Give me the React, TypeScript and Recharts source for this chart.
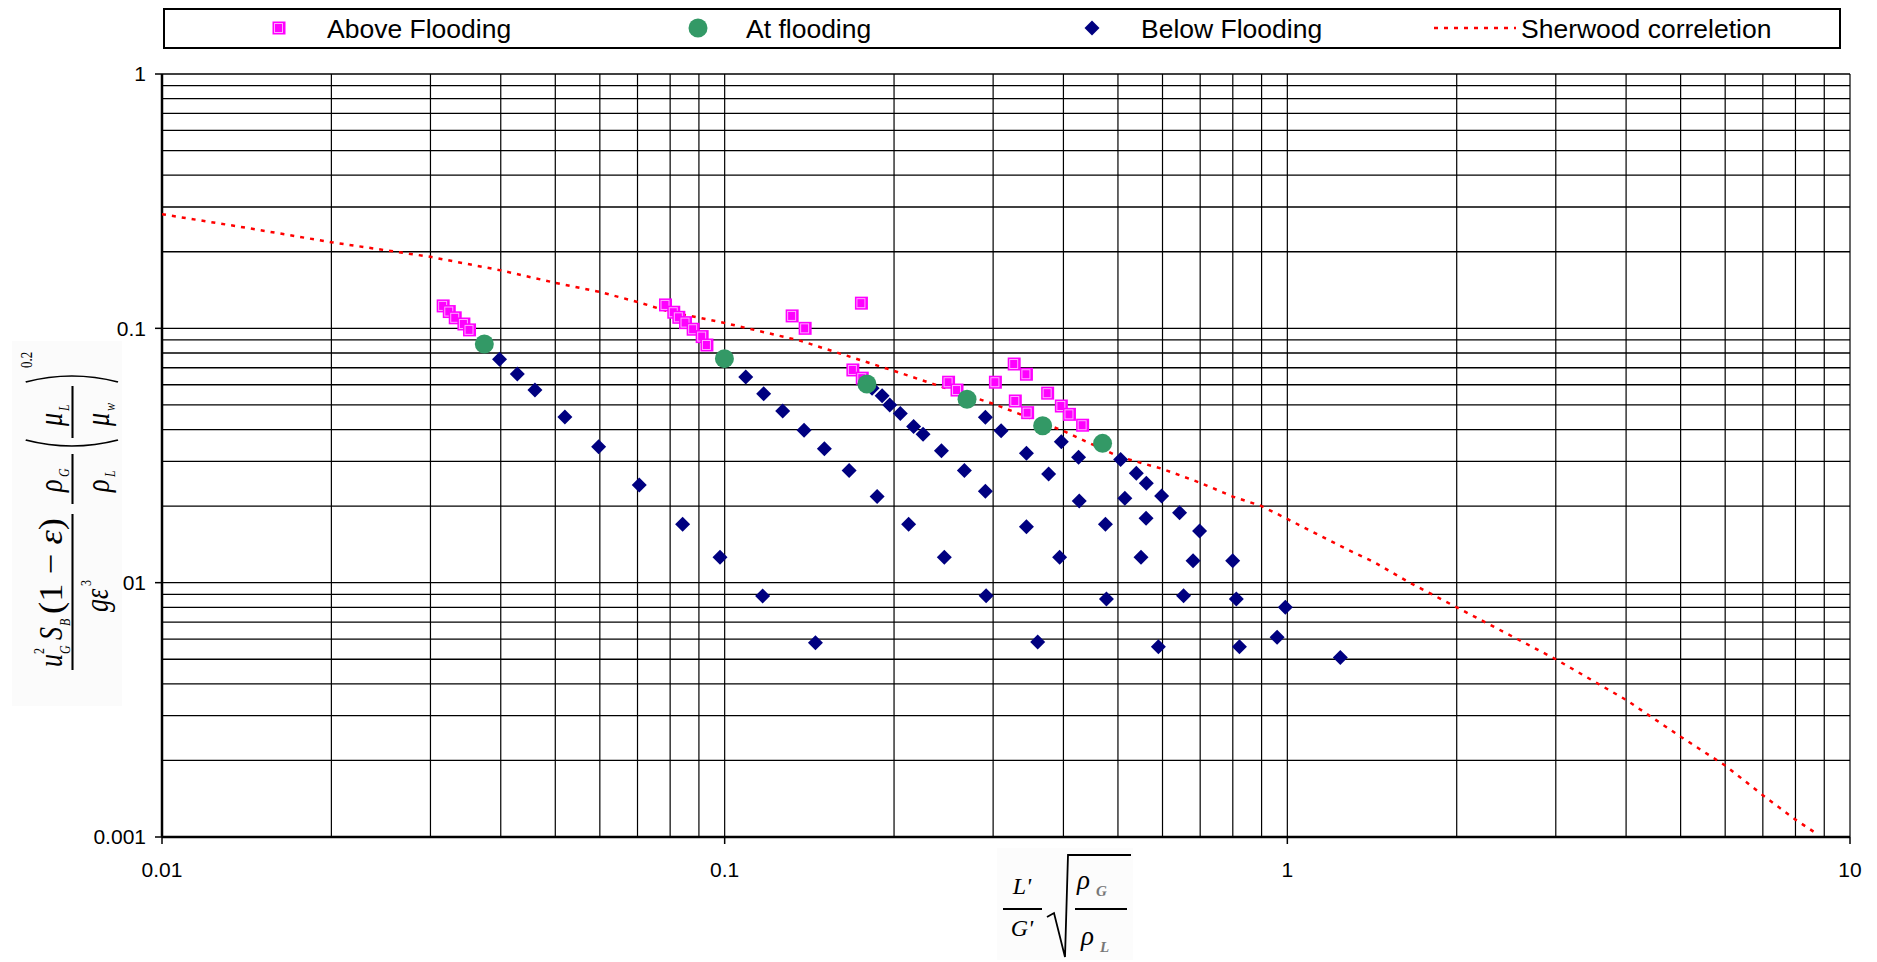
import { ScatterChart, Scatter, XAxis, YAxis, ReferenceLine } from "recharts";

const aboveFlooding = [
  { x: 0.0316, y: 0.1225 }, { x: 0.0324, y: 0.1164 }, { x: 0.0332, y: 0.11 }, { x: 0.0344, y: 0.104 }, { x: 0.0352, y: 0.0986 },
  { x: 0.0785, y: 0.1236 }, { x: 0.0812, y: 0.1157 }, { x: 0.0829, y: 0.1105 }, { x: 0.0852, y: 0.1053 }, { x: 0.0879, y: 0.0992 },
  { x: 0.0912, y: 0.0928 }, { x: 0.093, y: 0.086 },
  { x: 0.1318, y: 0.1119 }, { x: 0.139, y: 0.1 }, { x: 0.175, y: 0.1256 }, { x: 0.169, y: 0.0686 }, { x: 0.1756, y: 0.0637 },
  { x: 0.25, y: 0.0614 }, { x: 0.2588, y: 0.0572 }, { x: 0.3028, y: 0.0614 }, { x: 0.327, y: 0.0724 }, { x: 0.3438, y: 0.066 },
  { x: 0.3285, y: 0.0518 }, { x: 0.3455, y: 0.0466 }, { x: 0.375, y: 0.0556 }, { x: 0.3966, y: 0.0495 }, { x: 0.41, y: 0.0459 },
  { x: 0.4327, y: 0.0416 },
];

const atFlooding = [
  { x: 0.0374, y: 0.0868 }, { x: 0.0999, y: 0.076 }, { x: 0.179, y: 0.0604 },
  { x: 0.2696, y: 0.0526 }, { x: 0.3674, y: 0.0414 }, { x: 0.4695, y: 0.0353 },
];

const belowFlooding = [
  { x: 0.0398, y: 0.0756 }, { x: 0.0428, y: 0.0662 }, { x: 0.046, y: 0.0572 }, { x: 0.052, y: 0.0448 }, { x: 0.0597, y: 0.0342 },
  { x: 0.0705, y: 0.0242 }, { x: 0.0842, y: 0.01696 }, { x: 0.0981, y: 0.0126 }, { x: 0.1168, y: 0.00886 }, { x: 0.145, y: 0.0058 },
  { x: 0.109, y: 0.0644 }, { x: 0.1173, y: 0.0553 }, { x: 0.1268, y: 0.0473 }, { x: 0.1384, y: 0.0397 }, { x: 0.1504, y: 0.0336 },
  { x: 0.1664, y: 0.0276 }, { x: 0.1866, y: 0.0218 }, { x: 0.2123, y: 0.01696 }, { x: 0.2457, y: 0.01258 }, { x: 0.2915, y: 0.00888 },
  { x: 0.36, y: 0.00585 },
  { x: 0.1828, y: 0.0581 }, { x: 0.1905, y: 0.0543 }, { x: 0.1965, y: 0.05 }, { x: 0.2052, y: 0.0463 }, { x: 0.2167, y: 0.0411 },
  { x: 0.2252, y: 0.0383 }, { x: 0.2428, y: 0.033 }, { x: 0.2667, y: 0.0276 }, { x: 0.2906, y: 0.0229 }, { x: 0.3438, y: 0.0166 },
  { x: 0.3938, y: 0.01258 }, { x: 0.477, y: 0.00862 }, { x: 0.59, y: 0.0056 },
  { x: 0.2906, y: 0.0447 }, { x: 0.31, y: 0.0396 }, { x: 0.3438, y: 0.0323 }, { x: 0.3765, y: 0.02674 }, { x: 0.4268, y: 0.02094 },
  { x: 0.475, y: 0.01696 }, { x: 0.5495, y: 0.01258 }, { x: 0.654, y: 0.00888 }, { x: 0.822, y: 0.0056 },
  { x: 0.3966, y: 0.0358 }, { x: 0.4256, y: 0.0311 }, { x: 0.5143, y: 0.02146 }, { x: 0.561, y: 0.0179 }, { x: 0.68, y: 0.0122 },
  { x: 0.8116, y: 0.00862 }, { x: 0.959, y: 0.0061 },
  { x: 0.5055, y: 0.0305 }, { x: 0.539, y: 0.0269 }, { x: 0.5615, y: 0.0246 }, { x: 0.5978, y: 0.0219 }, { x: 0.6434, y: 0.01884 },
  { x: 0.6983, y: 0.01596 }, { x: 0.7996, y: 0.0122 }, { x: 0.9917, y: 0.008 }, { x: 1.242, y: 0.00508 },
];

const sherwood = [
  { x: 0.01, y: 0.281 }, { x: 0.0142, y: 0.248 }, { x: 0.02, y: 0.218 }, { x: 0.03, y: 0.191 }, { x: 0.04, y: 0.169 },
  { x: 0.05, y: 0.151 }, { x: 0.06, y: 0.139 }, { x: 0.07, y: 0.127 }, { x: 0.08, y: 0.116 }, { x: 0.1, y: 0.105 },
  { x: 0.136, y: 0.0895 }, { x: 0.2, y: 0.068 }, { x: 0.3, y: 0.0505 }, { x: 0.4, y: 0.0395 }, { x: 0.5, y: 0.0314 },
  { x: 0.6, y: 0.028 }, { x: 0.7, y: 0.0247 }, { x: 0.8, y: 0.0218 }, { x: 0.9, y: 0.02 }, { x: 1.0, y: 0.0178 },
  { x: 1.27, y: 0.0136 }, { x: 1.42, y: 0.0121 }, { x: 1.65, y: 0.01 }, { x: 2, y: 0.008 }, { x: 3, y: 0.005 },
  { x: 4, y: 0.00346 }, { x: 5, y: 0.00248 }, { x: 6, y: 0.00191 }, { x: 7, y: 0.00146 }, { x: 8, y: 0.00117 },
  { x: 8.67, y: 0.00104 },
];

const xTicks = [0.01, 0.1, 1, 10];
const yTicks = [0.001, 0.01, 0.1, 1];
const gridX = [
  0.02, 0.03, 0.04, 0.05, 0.06, 0.07, 0.08, 0.09, 0.1,
  0.2, 0.3, 0.4, 0.5, 0.6, 0.7, 0.8, 0.9, 1,
  2, 3, 4, 5, 6, 7, 8, 9, 10,
];
const gridY = [
  0.002, 0.003, 0.004, 0.005, 0.006, 0.007, 0.008, 0.009, 0.01,
  0.02, 0.03, 0.04, 0.05, 0.06, 0.07, 0.08, 0.09, 0.1,
  0.2, 0.3, 0.4, 0.5, 0.6, 0.7, 0.8, 0.9, 1,
];

const SANS = "'Liberation Sans', Arial, Helvetica, sans-serif";
const SERIF = "'Liberation Serif', 'Times New Roman', serif";
const PINK = "#FF00FF";
const GREEN = "#339966";
const NAVY = "#000080";

const Square = ({ cx, cy }: any) => (
  <g>
    <rect x={cx - 6.5} y={cy - 6.5} width={13} height={13} fill={PINK} />
    <rect x={cx - 4.5} y={cy - 4.5} width={8} height={9} fill="none" stroke="#FFA8FF" strokeWidth={1} />
  </g>
);
const Dot = ({ cx, cy }: any) => <circle cx={cx} cy={cy} r={9.5} fill={GREEN} />;
const Diamond = ({ cx, cy }: any) => (
  <polygon points={`${cx},${cy - 7.5} ${cx + 7.5},${cy} ${cx},${cy + 7.5} ${cx - 7.5},${cy}`} fill={NAVY} />
);
const NoMark = () => <g />;

function Overlay() {
  const it = { fontFamily: SERIF, fontStyle: "italic" as const };
  return (
    <svg width={1877} height={962} style={{ position: "absolute", left: 0, top: 0, pointerEvents: "none" }}>
      {/* legend */}
      <rect x={164} y={9} width={1676} height={39} fill="#fff" stroke="#000" strokeWidth={2} />
      <g fontFamily={SANS} fontSize={26.5} fill="#000">
        <Square cx={279} cy={28} />
        <text x={327} y={37.5}>Above Flooding</text>
        <Dot cx={698} cy={28} />
        <text x={746} y={37.5}>At flooding</text>
        <Diamond cx={1092} cy={28} />
        <text x={1141} y={37.5}>Below Flooding</text>
        <line x1={1434} x2={1516} y1={28} y2={28} stroke="#FF0000" strokeWidth={2.5} strokeDasharray="4 6" />
        <text x={1521} y={37.5}>Sherwood correletion</text>
      </g>

      {/* y axis title */}
      <rect x={12} y={341} width={110} height={365} fill="#fbfbfb" />
      <g transform="translate(66,510) rotate(-90) scale(1,1.3)" fill="#000">
        <text x={-157} y={-3} fontSize={26} {...it}>u</text>
        <text x={-144} y={-17} fontSize={12} fontFamily={SERIF}>2</text>
        <text x={-144} y={3} fontSize={12} {...it}>G</text>
        <text x={-130} y={-3} fontSize={26} {...it}>S</text>
        <text x={-116} y={3} fontSize={12} {...it}>B</text>
        <text x={-104} y={-3} fontSize={26} fontFamily={SERIF} textLength={96} lengthAdjust="spacingAndGlyphs">
          (1 − <tspan fontStyle="italic">ε</tspan>)
        </text>
        <line x1={-160} x2={-4} y1={5} y2={5} stroke="#000" strokeWidth={1.6} />
        <text x={-102} y={32} fontSize={26} {...it}>gε</text>
        <text x={-76} y={19} fontSize={12} fontFamily={SERIF}>3</text>

        <text x={18} y={-3} fontSize={26} {...it}>ρ</text>
        <text x={33} y={2} fontSize={12} {...it}>G</text>
        <line x1={6} x2={56} y1={5} y2={5} stroke="#000" strokeWidth={1.6} />
        <text x={18} y={33} fontSize={26} {...it}>ρ</text>
        <text x={33} y={38} fontSize={12} {...it}>L</text>

        <path d="M70,-31 Q58,4.5 70,40" fill="none" stroke="#000" strokeWidth={1.6} />
        <text x={84} y={-3} fontSize={26} {...it}>μ</text>
        <text x={99} y={2} fontSize={12} {...it}>L</text>
        <line x1={72} x2={124} y1={5} y2={5} stroke="#000" strokeWidth={1.6} />
        <text x={84} y={33} fontSize={26} {...it}>μ</text>
        <text x={99} y={38} fontSize={12} {...it}>w</text>
        <path d="M128,-31 Q140,4.5 128,40" fill="none" stroke="#000" strokeWidth={1.6} />
        <text x={142} y={-26} fontSize={13} fontFamily={SERIF}>0.2</text>
      </g>

      {/* x axis title */}
      <rect x={997} y={848} width={136} height={112} fill="#fcfcfc" />
      <g fill="#000">
        <text x={1022} y={894} fontSize={24} textAnchor="middle" {...it}>L'</text>
        <line x1={1003} x2={1042} y1={909} y2={909} stroke="#000" strokeWidth={1.8} />
        <text x={1022} y={936} fontSize={24} textAnchor="middle" {...it}>G'</text>
        <path d="M1047,917 L1054,913 L1065,957 L1068,855 L1131,855" fill="none" stroke="#000" strokeWidth={1.8} />
        <text x={1077} y={889} fontSize={27} {...it}>ρ</text>
        <text x={1096} y={896} fontSize={15} fill="#777" fontWeight="bold" {...it}>G</text>
        <line x1={1075} x2={1127} y1={909} y2={909} stroke="#000" strokeWidth={1.8} />
        <text x={1081} y={945} fontSize={27} {...it}>ρ</text>
        <text x={1100} y={952} fontSize={15} fill="#777" fontWeight="bold" {...it}>L</text>
      </g>
    </svg>
  );
}

export default function App() {
  const tickStyle = { fontSize: 21, fill: "#000", fontFamily: SANS };
  return (
    <div style={{ position: "absolute", left: 0, top: 0, width: 1877, height: 962, background: "#fff" }}>
      <ScatterChart width={1877} height={962} margin={{ top: 74, right: 27, bottom: 65, left: 0 }}>
        <XAxis
          type="number"
          dataKey="x"
          scale="log"
          domain={[0.01, 10]}
          ticks={xTicks}
          interval={0}
          allowDataOverflow
          height={60}
          tick={tickStyle}
          tickSize={7}
          tickMargin={18}
          tickFormatter={(v: number) => String(v)}
          axisLine={{ stroke: "#000", strokeWidth: 2.5 }}
          tickLine={{ stroke: "#000", strokeWidth: 1.5 }}
        />
        <YAxis
          type="number"
          dataKey="y"
          scale="log"
          domain={[0.001, 1]}
          ticks={yTicks}
          interval={0}
          allowDataOverflow
          width={162}
          tick={tickStyle}
          tickSize={7}
          tickMargin={9}
          tickFormatter={(v: number) => String(v)}
          axisLine={{ stroke: "#000", strokeWidth: 2.5 }}
          tickLine={{ stroke: "#000", strokeWidth: 1.5 }}
        />
        {gridX.map((v) => (
          <ReferenceLine key={`gx${v}`} x={v} stroke="#000" strokeWidth={1.2} />
        ))}
        {gridY.map((v) => (
          <ReferenceLine key={`gy${v}`} y={v} stroke="#000" strokeWidth={1.3} />
        ))}
        <Scatter
          name="Sherwood correletion"
          data={sherwood}
          line={{ stroke: "#FF0000", strokeWidth: 2.5, strokeDasharray: "4 6" }}
          lineType="joint"
          shape={NoMark}
          isAnimationActive={false}
        />
        <Scatter name="Above Flooding" data={aboveFlooding} shape={Square} isAnimationActive={false} />
        <Scatter name="Below Flooding" data={belowFlooding} shape={Diamond} isAnimationActive={false} />
        <Scatter name="At flooding" data={atFlooding} shape={Dot} isAnimationActive={false} />
      </ScatterChart>
      <Overlay />
    </div>
  );
}
